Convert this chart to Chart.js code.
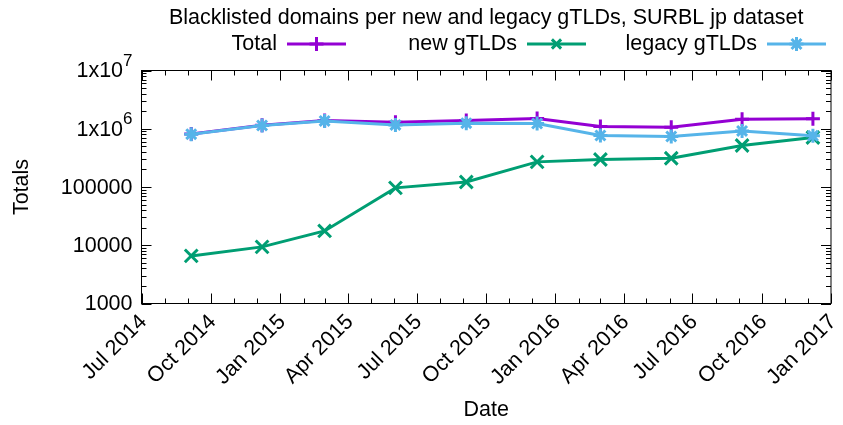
<!DOCTYPE html>
<html>
<head>
<meta charset="utf-8">
<title>Blacklisted domains per new and legacy gTLDs</title>
<script src="https://cdn.jsdelivr.net/npm/chart.js@4/dist/chart.umd.min.js"></script>
<style>
  html, body { margin: 0; padding: 0; background: #ffffff; }
  canvas { display: block; }
</style>
</head>
<body>
<canvas id="chart" width="843" height="425"></canvas>
<script>
// Snapshot dates and blacklisted domain counts (SURBL jp list)
const sampleDates = ['2014-09-05', '2014-12-08', '2015-03-01', '2015-06-03', '2015-09-05',
                     '2015-12-08', '2016-03-01', '2016-06-03', '2016-09-05', '2016-12-08'];
const totalCounts  = [813000, 1150000, 1380000, 1290000, 1390000, 1500000, 1090000, 1060000, 1450000, 1490000];
const newGtldCounts = [6560, 9370, 17600, 96600, 122000, 270000, 297000, 312000, 516000, 707000];
const legacyGtldCounts = [806000, 1137000, 1364000, 1165000, 1245000, 1230000, 766000, 736000, 919000, 755000];

// Axis ticks
const xTickDates  = ['2014-07-01', '2014-10-01', '2015-01-01', '2015-04-01', '2015-07-01', '2015-10-01',
                     '2016-01-01', '2016-04-01', '2016-07-01', '2016-10-01', '2017-01-01'];
const xTickLabels = ['Jul 2014', 'Oct 2014', 'Jan 2015', 'Apr 2015', 'Jul 2015', 'Oct 2015',
                     'Jan 2016', 'Apr 2016', 'Jul 2016', 'Oct 2016', 'Jan 2017'];
const yTickValues = [1000, 10000, 100000, 1000000, 10000000];
const yTickLabels = [['1000', ''], ['10000', ''], ['100000', ''], ['1x10', '6'], ['1x10', '7']];

const seriesNames  = ['Total', 'new gTLDs', 'legacy gTLDs'];
const seriesColors = ['#9400d3', '#009e73', '#56b4e9'];
const seriesMarks  = ['cross', 'crossRot', 'star'];

const chartTitle = 'Blacklisted domains per new and legacy gTLDs, SURBL jp dataset';
const xAxisTitle = 'Date';
const yAxisTitle = 'Totals';

const FONT_FAMILY = '"Liberation Sans", Arial, sans-serif';
const FONT_SIZE = 21.5;

function dayNumber(iso) {
  const [y, m, d] = iso.split('-').map(Number);
  return Date.UTC(y, m - 1, d) / 86400000;
}

function series(values) {
  return sampleDates.map((d, i) => ({ x: dayNumber(d), y: values[i] }));
}

// Gnuplot-like point glyphs for the key samples
function drawMark(ctx, style, x, y, r) {
  ctx.beginPath();
  if (style === 'cross' || style === 'star') {
    ctx.moveTo(x - r, y); ctx.lineTo(x + r, y);
    ctx.moveTo(x, y - r); ctx.lineTo(x, y + r);
  }
  if (style === 'crossRot' || style === 'star') {
    const d = r * Math.SQRT1_2;
    ctx.moveTo(x - d, y - d); ctx.lineTo(x + d, y + d);
    ctx.moveTo(x - d, y + d); ctx.lineTo(x + d, y - d);
  }
  ctx.stroke();
}

// Border, inward tics on all four sides, tic labels, titles and key
const frameAndLabels = {
  id: 'frameAndLabels',
  beforeDatasetsDraw(chart) {
    const { ctx, chartArea: a, scales: { x, y } } = chart;
    ctx.save();
    ctx.strokeStyle = '#000000';
    ctx.lineWidth = 1;

    // y tics (log decades, minor at 2..9)
    const major = 10, minor = 5;
    ctx.beginPath();
    for (let e = 3; e <= 7; e++) {
      const base = Math.pow(10, e);
      const py = Math.round(y.getPixelForValue(base)) + 0.5;
      ctx.moveTo(a.left, py); ctx.lineTo(a.left + major, py);
      ctx.moveTo(a.right, py); ctx.lineTo(a.right - major, py);
      if (e < 7) {
        for (let m = 2; m <= 9; m++) {
          const pm = Math.round(y.getPixelForValue(m * base)) + 0.5;
          ctx.moveTo(a.left, pm); ctx.lineTo(a.left + minor, pm);
          ctx.moveTo(a.right, pm); ctx.lineTo(a.right - minor, pm);
        }
      }
    }
    // x tics: every month, longer at quarter starts
    const start = xTickDates[0].split('-').map(Number);
    const end = xTickDates[xTickDates.length - 1].split('-').map(Number);
    let yy = start[0], mm = start[1];
    while (yy < end[0] || (yy === end[0] && mm <= end[1])) {
      const v = Date.UTC(yy, mm - 1, 1) / 86400000;
      const px = Math.round(x.getPixelForValue(v)) + 0.5;
      const len = ((mm - 1) % 3 === 0) ? major : minor;
      ctx.moveTo(px, a.bottom); ctx.lineTo(px, a.bottom - len);
      ctx.moveTo(px, a.top); ctx.lineTo(px, a.top + len);
      mm++; if (mm > 12) { mm = 1; yy++; }
    }
    ctx.stroke();

    // border
    ctx.strokeRect(a.left, a.top, a.right - a.left, a.bottom - a.top);
    ctx.restore();
  },
  afterDraw(chart) {
    const { ctx, chartArea: a, scales: { x, y } } = chart;
    ctx.save();
    ctx.fillStyle = '#000000';
    const font = (s) => s + 'px ' + FONT_FAMILY;

    // y tic labels, right aligned, with raised exponent
    yTickValues.forEach((v, i) => {
      const py = y.getPixelForValue(v);
      const [base, exp] = yTickLabels[i];
      const right = a.left - 9;
      ctx.textBaseline = 'middle';
      ctx.textAlign = 'right';
      if (exp) {
        ctx.font = font(17);
        const ew = ctx.measureText(exp).width;
        ctx.fillText(exp, right, py - 9);
        ctx.font = font(FONT_SIZE);
        ctx.fillText(base, right - ew, py + 1);
      } else {
        ctx.font = font(FONT_SIZE);
        ctx.fillText(base, right, py + 1);
      }
    });

    // x tic labels rotated 45 degrees
    ctx.font = font(FONT_SIZE);
    ctx.textAlign = 'right';
    ctx.textBaseline = 'middle';
    xTickDates.forEach((d, i) => {
      const px = x.getPixelForValue(dayNumber(d));
      ctx.save();
      ctx.translate(px + 2, a.bottom + 15);
      ctx.rotate(-Math.PI / 4);
      ctx.fillText(xTickLabels[i], 0, 0);
      ctx.restore();
    });

    // axis titles
    ctx.textAlign = 'center';
    ctx.fillText(xAxisTitle, (a.left + a.right) / 2, 410);
    ctx.save();
    ctx.translate(22, (a.top + a.bottom) / 2);
    ctx.rotate(-Math.PI / 2);
    ctx.fillText(yAxisTitle, 0, 0);
    ctx.restore();

    // chart title
    ctx.fillText(chartTitle, (a.left + a.right) / 2, 18);

    // key: text right-justified, then line sample with point glyph
    const keyY = 44;
    const textEnds = [277, 517, 757];
    ctx.textAlign = 'right';
    chart.data.datasets.forEach((ds, i) => {
      const tx = textEnds[i];
      ctx.fillStyle = '#000000';
      ctx.fillText(ds.label, tx, keyY);
      const x0 = tx + 10, x1 = tx + 69;
      ctx.strokeStyle = ds.borderColor;
      ctx.lineWidth = 3;
      ctx.beginPath();
      ctx.moveTo(x0, keyY); ctx.lineTo(x1, keyY);
      ctx.stroke();
      drawMark(ctx, ds.pointStyle, (x0 + x1) / 2, keyY, ds.pointStyle === 'crossRot' ? 6.5 : 7);
    });
    ctx.restore();
  }
};

const datasets = [totalCounts, newGtldCounts, legacyGtldCounts].map((vals, i) => ({
  label: seriesNames[i],
  data: series(vals),
  borderColor: seriesColors[i],
  backgroundColor: seriesColors[i],
  pointBorderColor: seriesColors[i],
  pointBackgroundColor: seriesColors[i],
  pointStyle: seriesMarks[i],
  pointRadius: seriesMarks[i] === 'crossRot' ? 9 : 7,
  pointBorderWidth: 3,
  borderWidth: 3,
  tension: 0,
  fill: false,
  order: 3 - i
}));

new Chart(document.getElementById('chart').getContext('2d'), {
  type: 'line',
  data: { datasets },
  options: {
    responsive: false,
    animation: false,
    devicePixelRatio: 1,
    events: [],
    layout: { padding: { left: 141.5, right: 2, top: 70.5, bottom: 121.5 } },
    scales: {
      x: { type: 'linear', display: false, min: dayNumber(xTickDates[0]), max: dayNumber(xTickDates[xTickDates.length - 1]) },
      y: { type: 'logarithmic', display: false, min: yTickValues[0], max: yTickValues[yTickValues.length - 1] }
    },
    plugins: {
      legend: { display: false },
      title: { display: false },
      tooltip: { enabled: false }
    }
  },
  plugins: [frameAndLabels]
});
</script>
</body>
</html>
